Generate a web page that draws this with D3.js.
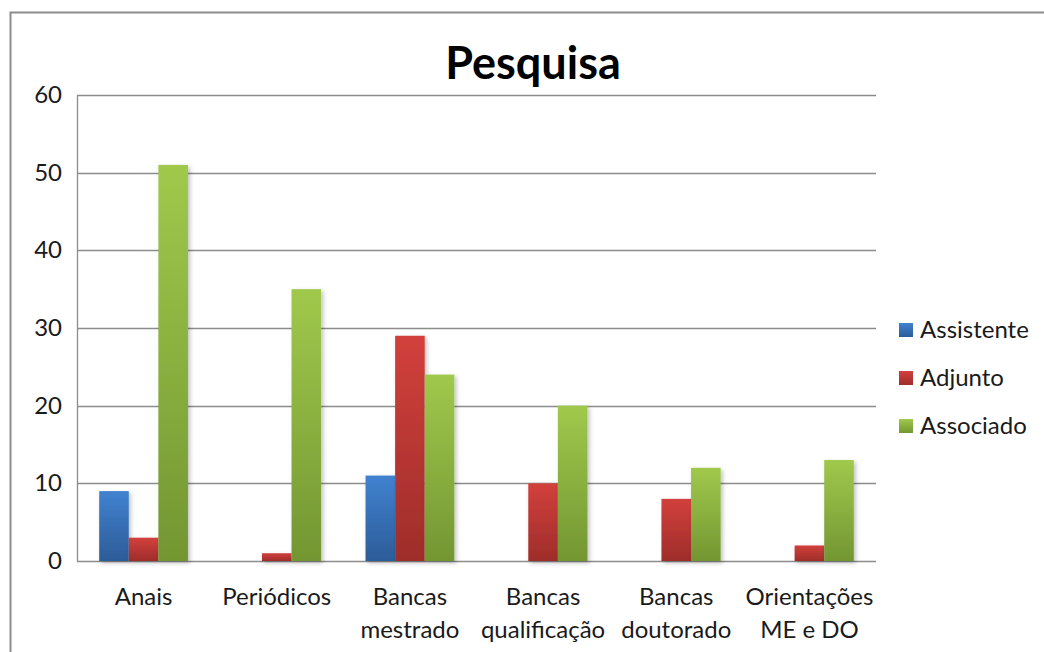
<!DOCTYPE html>
<html><head><meta charset="utf-8">
<script src="https://cdn.jsdelivr.net/npm/d3@7/dist/d3.min.js"></script>
<style>body{margin:0;background:#fff}svg{display:block}text{font-family:Lato,"Open Sans",sans-serif}</style>
</head><body><svg id="c" width="1044" height="652"></svg>
<script>
const categories = [["Anais"],["Periódicos"],["Bancas","mestrado"],["Bancas","qualificação"],["Bancas","doutorado"],["Orientações","ME e DO"]];
const seriesNames = ["Assistente","Adjunto","Associado"];
const assistente = [9,0,11,0,0,0];
const adjunto = [3,1,29,10,8,2];
const associado = [51,35,24,20,12,13];
const yTicks = [0,10,20,30,40,50,60];
const series = [assistente, adjunto, associado];
const colors = [["#4182d0","#2c5c98"],["#d2403c","#9e2d2a"],["#a0c94c","#739632"]];

const svg = d3.select("#c");
const defs = svg.append("defs");
colors.forEach((c,i)=>{
  const g = defs.append("linearGradient").attr("id","g"+i).attr("x1",0).attr("y1",0).attr("x2",0).attr("y2",1);
  g.append("stop").attr("offset","0").attr("stop-color",c[0]);
  g.append("stop").attr("offset","1").attr("stop-color",c[1]);
});
const f = defs.append("filter").attr("id","sh").attr("x","-20%").attr("y","-5%").attr("width","150%").attr("height","120%");
f.append("feDropShadow").attr("dx",2).attr("dy",2).attr("stdDeviation",2).attr("flood-color","#000").attr("flood-opacity",0.25);

svg.append("path").attr("d","M10.5,652 V12.5 H1044").attr("fill","none").attr("stroke","#8c8c8c").attr("stroke-width",2);

const L=77,R=876,T=95,B=561;
const x = d3.scaleBand().domain(d3.range(categories.length)).range([L,R]).paddingInner(1.5/4.5).paddingOuter(0.75/4.5);
const xs = d3.scaleBand().domain(d3.range(3)).range([0,x.bandwidth()]);
const y = d3.scaleLinear().domain([0,60]).range([B,T]);

svg.append("g").selectAll("line").data(yTicks).join("line")
  .attr("x1",L).attr("x2",R).attr("y1",d=>Math.round(y(d))+0.5).attr("y2",d=>Math.round(y(d))+0.5)
  .attr("stroke","#8c8c8c").attr("stroke-width",1.3);
svg.append("line").attr("x1",L+0.5).attr("x2",L+0.5).attr("y1",T).attr("y2",B).attr("stroke","#8c8c8c").attr("stroke-width",1.3);

svg.append("g").selectAll("text").data(yTicks).join("text")
  .attr("x",62).attr("y",d=>y(d)+8).attr("text-anchor","end").attr("font-size",24).attr("fill","#1a1a1a").text(d=>d);

series.forEach((s,si)=>{
  svg.append("g").attr("filter","url(#sh)").selectAll("rect").data(s).join("rect")
    .attr("x",(d,i)=>x(i)+xs(si)).attr("width",xs.bandwidth())
    .attr("y",d=>y(d)).attr("height",d=>B-y(d))
    .attr("fill","url(#g"+si+")");
});

const xl = svg.append("g");
categories.forEach((c,i)=>{
  const t = xl.append("text").attr("text-anchor","middle").attr("font-size",24).attr("fill","#1a1a1a");
  c.forEach((line,j)=>t.append("tspan").attr("x",x(i)+x.bandwidth()/2).attr("y",605+j*33).text(line));
});

svg.append("text").attr("x",533).attr("y",79).attr("text-anchor","middle").attr("font-size",45).attr("font-weight","bold").attr("fill","#000").text("Pesquisa");

const lg = svg.append("g");
seriesNames.forEach((n,i)=>{
  const yy = 330+i*48;
  lg.append("rect").attr("x",899).attr("y",yy-7).attr("width",14).attr("height",14).attr("fill","url(#g"+i+")");
  lg.append("text").attr("x",920).attr("y",yy+8).attr("font-size",24).attr("fill","#1a1a1a").text(n);
});
</script></body></html>
